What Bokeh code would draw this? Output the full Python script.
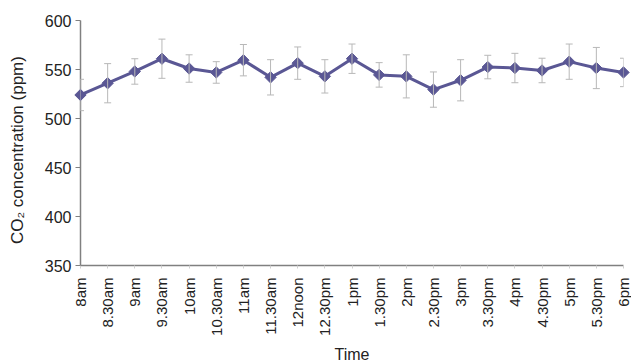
from bokeh.plotting import figure
from bokeh.models import Range1d, FixedTicker, Whisker, ColumnDataSource
from bokeh.embed import file_html
from bokeh.resources import INLINE
import math

times = ["8am", "8.30am", "9am", "9.30am", "10am", "10.30am", "11am", "11.30am",
         "12noon", "12.30pm", "1pm", "1.30pm", "2pm", "2.30pm", "3pm", "3.30pm",
         "4pm", "4.30pm", "5pm", "5.30pm", "6pm"]
co2 = [524, 536, 548, 561, 551, 547, 559.5, 542, 556.5, 543, 561, 544.5, 543,
       529.5, 539, 552.5, 551.5, 549, 558, 551.5, 547]
err = [16, 20, 13, 20, 14, 11, 16, 18, 16.5, 17, 15, 12.5, 22, 18, 21, 12, 15,
       12.5, 18, 21, 14.5]
y_ticks = [350, 400, 450, 500, 550, 600]

xs = list(range(len(times)))
src = ColumnDataSource(dict(
    x=xs, y=co2,
    upper=[v + e for v, e in zip(co2, err)],
    lower=[v - e for v, e in zip(co2, err)],
))

FONT = "Liberation Sans"
p = figure(frame_width=543, frame_height=245, output_backend="svg", toolbar_location=None,
           x_range=Range1d(0, len(times) - 1), y_range=Range1d(350, 600),
           min_border_left=80, min_border_right=8, min_border_top=20,
           min_border_bottom=5)
p.outline_line_color = None
p.grid.visible = False
p.background_fill_color = "white"

wh = Whisker(base="x", upper="upper", lower="lower", source=src,
             line_color="#b8b8b8", line_width=1, level="overlay")
wh.upper_head.size = 7
wh.lower_head.size = 7
wh.upper_head.line_color = "#b8b8b8"
wh.lower_head.line_color = "#b8b8b8"
p.add_layout(wh)

p.line("x", "y", source=src, line_color="#5a5794", line_width=3, level="overlay")
p.scatter("x", "y", source=src, marker="square", angle=math.pi / 4, size=8,
          fill_color="#5a5794", line_color="#5a5794", level="overlay")

p.yaxis.ticker = FixedTicker(ticks=y_ticks)
p.yaxis.axis_line_color = "#808080"
p.yaxis.axis_line_width = 1.5
p.yaxis.major_tick_line_color = "#808080"
p.yaxis.major_tick_out = 5
p.yaxis.major_tick_in = 0
p.yaxis.minor_tick_line_color = None
p.yaxis.major_label_standoff = 4
p.yaxis.major_label_text_font = FONT
p.yaxis.major_label_text_font_size = "16px"
p.yaxis.major_label_text_color = "#222222"
p.yaxis.axis_label = "CO₂ concentration (ppm)\u00a0\u00a0\u00a0"
p.yaxis.axis_label_text_font = FONT
p.yaxis.axis_label_text_font_size = "17px"
p.yaxis.axis_label_text_font_style = "normal"
p.yaxis.axis_label_text_color = "#222222"
p.yaxis.axis_label_standoff = 15

p.xaxis.ticker = FixedTicker(ticks=xs)
p.xaxis.major_label_overrides = {i: t for i, t in enumerate(times)}
p.xaxis.major_label_orientation = math.pi / 2
p.xaxis.axis_line_color = "#808080"
p.xaxis.axis_line_width = 1.5
p.xaxis.major_tick_line_color = "#d0d0d0"
p.xaxis.major_tick_out = 3
p.xaxis.major_tick_in = 0
p.xaxis.minor_tick_line_color = None
p.xaxis.major_label_text_font = FONT
p.xaxis.major_label_text_font_size = "15px"
p.xaxis.major_label_text_color = "#222222"
p.xaxis.major_label_standoff = 9
p.xaxis.axis_label = "Time"
p.xaxis.axis_label_text_font = FONT
p.xaxis.axis_label_text_font_size = "16px"
p.xaxis.axis_label_text_font_style = "normal"
p.xaxis.axis_label_text_color = "#222222"
p.xaxis.axis_label_standoff = 7

open("out.html", "w").write(file_html(p, INLINE))
